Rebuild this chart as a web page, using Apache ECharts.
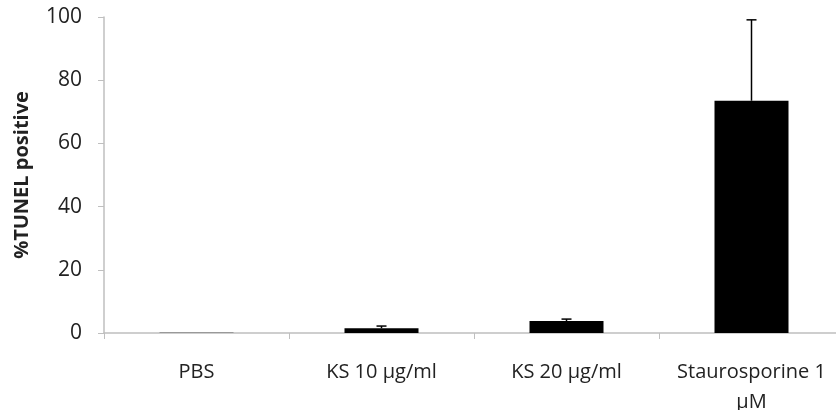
<!DOCTYPE html>
<html>
<head>
<meta charset="utf-8">
<script src="https://cdn.jsdelivr.net/npm/echarts@6/dist/echarts.min.js"></script>
<style>
  html, body { margin: 0; padding: 0; background: #fff; }
  #chart { width: 836px; height: 410px; }
</style>
</head>
<body>
<div id="chart"></div>
<script>
const categories = ['PBS', 'KS 10 µg/ml', 'KS 20 µg/ml', 'Staurosporine 1\nµM']
const means = [0.3, 1.5, 3.8, 73.5]
const errors = [0, 0.7, 0.6, 25.6]
const yTicks = [0, 20, 40, 60, 80, 100]

const chart = echarts.init(document.getElementById('chart'))

const font = 'Open Sans, Lato, sans-serif'
const axisGray = '#bfbfbf'

// error bars: upper whisker only, with a cap
function renderError(params, api) {
  const idx = api.value(0)
  const base = api.coord([idx, api.value(1)])
  const top = api.coord([idx, api.value(1) + api.value(2)])
  const half = 5
  return {
    type: 'group',
    children: [
      { type: 'line', shape: { x1: base[0], y1: base[1], x2: top[0], y2: top[1] }, style: { stroke: '#000', lineWidth: 1.5 } },
      { type: 'line', shape: { x1: top[0] - half, y1: top[1], x2: top[0] + half, y2: top[1] }, style: { stroke: '#000', lineWidth: 1.5 } }
    ]
  }
}

const option = {
  animation: false,
  grid: { left: 104, top: 17, bottom: 77, right: -8, containLabel: false, outerBoundsMode: 'none' },
  xAxis: {
    type: 'category',
    data: categories,
    axisLine: { lineStyle: { color: axisGray, width: 1.5 } },
    axisTick: { show: true, length: 6, lineStyle: { color: axisGray } },
    axisLabel: { color: '#222', fontFamily: font, fontSize: 20, margin: 24, lineHeight: 30, interval: 0 }
  },
  yAxis: {
    type: 'value',
    min: yTicks[0],
    max: yTicks[yTicks.length - 1],
    interval: 20,
    name: '%TUNEL positive',
    nameLocation: 'middle',
    nameGap: 72,
    nameTextStyle: { color: '#222', fontFamily: font, fontSize: 20, fontWeight: 'bold' },
    axisLine: { show: true, lineStyle: { color: axisGray, width: 1.5 } },
    axisTick: { show: true, length: 6, lineStyle: { color: axisGray } },
    axisLabel: { color: '#222', fontFamily: font, fontSize: 21, margin: 22 },
    splitLine: { show: false }
  },
  series: [
    {
      type: 'bar',
      data: means.map((v, i) => ({ value: v, itemStyle: { color: i === 0 ? '#999' : '#000' } })),
      barWidth: '40%'
    },
    {
      type: 'custom',
      renderItem: renderError,
      data: means.map((v, i) => [i, v, errors[i]]).filter(d => d[2] > 0),
      z: 5
    }
  ]
}

chart.setOption(option)
</script>
</body>
</html>
